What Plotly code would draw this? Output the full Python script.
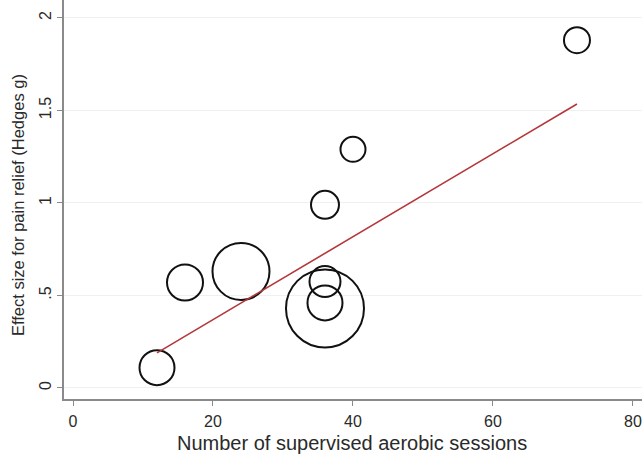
import plotly.graph_objects as go

# Data
sessions = [12, 16, 24, 36, 36, 36, 36, 40, 72]
hedges_g = [0.11, 0.57, 0.63, 0.43, 0.46, 0.575, 0.99, 1.29, 1.88]
weights = [35, 36, 57, 78, 35, 31, 28, 25, 26]
fit_x = [12, 72]
fit_y = [0.19, 1.535]

x_ticks = [0, 20, 40, 60, 80]
x_tick_labels = ["0", "20", "40", "60", "80"]
y_ticks = [0, 0.5, 1, 1.5, 2]
y_tick_labels = ["0", ".5", "1", "1.5", "2"]

fig = go.Figure()
fig.add_trace(go.Scatter(
    x=sessions, y=hedges_g, mode="markers",
    marker=dict(symbol="circle-open", size=weights, color="#111111",
                opacity=1, line=dict(width=2, color="#111111")),
    showlegend=False, hoverinfo="x+y",
))
fig.add_trace(go.Scatter(
    x=fit_x, y=fit_y, mode="lines",
    line=dict(color="#b5373a", width=1.6),
    showlegend=False,
))

font = "Liberation Sans, Arial, sans-serif"
fig.update_layout(
    width=642, height=454,
    margin=dict(l=64, r=0, t=0, b=55),
    paper_bgcolor="white", plot_bgcolor="white",
    font=dict(family=font, color="#2a2a2a", size=16),
    xaxis=dict(
        range=[-1.286, 81.29], tickvals=x_ticks, ticktext=x_tick_labels,
        showgrid=False, zeroline=False,
        showline=True, linecolor="#8a8a8a", linewidth=1.5,
        ticks="outside", ticklen=5, tickcolor="#8a8a8a", tickwidth=1.2,
        tickfont=dict(size=16), ticklabelstandoff=2,
    ),
    yaxis=dict(
        range=[-0.0595, 2.097], tickvals=y_ticks, ticktext=y_tick_labels,
        tickangle=-90,
        showgrid=True, gridcolor="#f0f0f0", gridwidth=1, zeroline=False,
        showline=True, linecolor="#8a8a8a", linewidth=1.5,
        ticks="outside", ticklen=5, tickcolor="#8a8a8a", tickwidth=1.2,
        tickfont=dict(size=16), ticklabelstandoff=0,
    ),
    annotations=[
        dict(text="Number of supervised aerobic sessions",
             xref="paper", yref="paper", x=0.498, y=-0.110,
             xanchor="center", yanchor="middle", showarrow=False,
             font=dict(size=20, family=font, color="#2a2a2a")),
        dict(text="Effect size for pain relief (Hedges g)",
             xref="paper", yref="paper", x=-0.0796, y=0.486,
             xanchor="center", yanchor="middle", textangle=-90,
             showarrow=False,
             font=dict(size=16.5, family=font, color="#2a2a2a")),
    ],
)

fig.write_html(
    "out.html",
    config={"displayModeBar": False},
    post_script="document.body.style.margin='0';"
                "document.body.style.overflow='hidden';",
)
